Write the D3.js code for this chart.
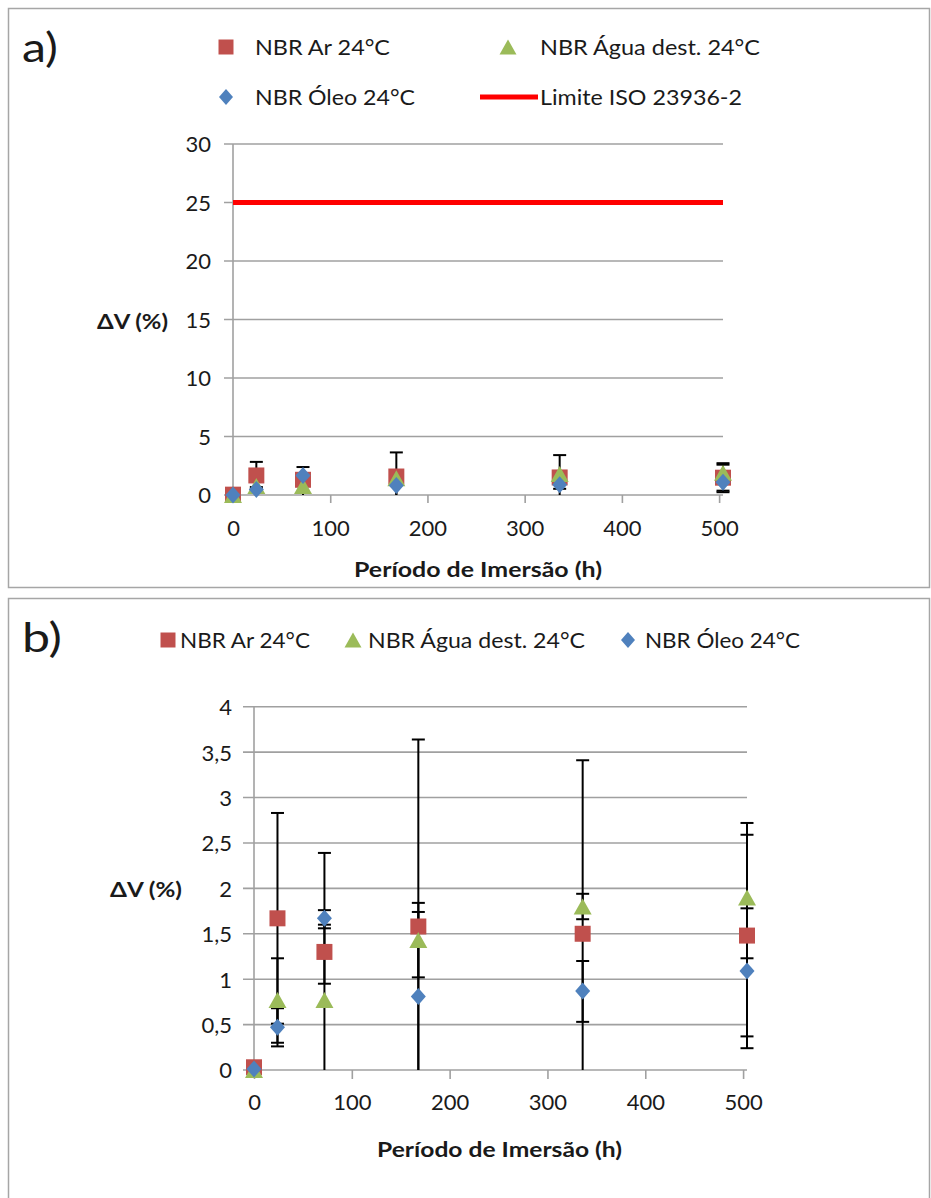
<!DOCTYPE html>
<html>
<head>
<meta charset="utf-8">
<script src="https://cdn.jsdelivr.net/npm/d3@7"></script>
<style>
  html, body { margin: 0; padding: 0; background: #fff; }
  svg { display: block; }
  text { font-family: Lato, "Open Sans", sans-serif; fill: #1a1a1a; }
</style>
</head>
<body>
<svg id="chart" width="931" height="1198"></svg>
<script>
// ---------------- DATA ----------------
const hours = [0, 24, 72, 168, 336, 504];
const seriesNames = ["NBR Ar 24°C", "NBR Água dest. 24°C", "NBR Óleo 24°C"];
const arValues   = [0.03, 1.67, 1.30, 1.58, 1.50, 1.48];
const aguaValues = [0.00, 0.77, 0.77, 1.43, 1.80, 1.90];
const oleoValues = [0.01, 0.47, 1.67, 0.81, 0.87, 1.09];
const arErrPlus    = [0, 1.16, 0.30, 2.06, 1.91, 1.11];
const arErrMinus   = [0, 1.16, 0.35, 2.06, 1.91, 1.11];
const aguaErrPlus  = [0, 0.46, 1.62, 0.41, 0.14, 0.82];
const aguaErrMinus = [0, 0.47, 1.62, 0.41, 0.14, 0.12];
const oleoErrPlus  = [0, 0.21, 0.09, 0.93, 0.33, 0.14];
const oleoErrMinus = [0, 0.21, 0.11, 0.93, 0.34, 0.85];
const limitName = "Limite ISO 23936-2";
const limitHours = [0, 504];
const limitValues = [25, 25];
const xTicks = [0, 100, 200, 300, 400, 500];
const yTicksA = [0, 5, 10, 15, 20, 25, 30];
const yTicksB = [0, 0.5, 1, 1.5, 2, 2.5, 3, 3.5, 4];
const xTitle = "Período de Imersão (h)";
const yTitle = "ΔV (%)";

// ---------------- STYLE ----------------
const colors = { ar: "#C0504D", agua: "#9BBB59", oleo: "#4F81BD", limit: "#FF0000" };
const gridColor = "#A0A0A0";
const frameColor = "#A6A6A6";

const series = [
  { key: "ar",   name: seriesNames[0], values: arValues,   plus: arErrPlus,   minus: arErrMinus,   shape: "square" },
  { key: "agua", name: seriesNames[1], values: aguaValues, plus: aguaErrPlus, minus: aguaErrMinus, shape: "triangle" },
  { key: "oleo", name: seriesNames[2], values: oleoValues, plus: oleoErrPlus, minus: oleoErrMinus, shape: "diamond" }
];

const svg = d3.select("#chart");

function markerPath(shape, s) {
  const h = s / 2;
  if (shape === "square") return `M${-h},${-h}H${h}V${h}H${-h}Z`;
  if (shape === "triangle") return `M0,${-h}L${h+1},${h}L${-h-1},${h}Z`;
  return `M0,${-h-0.5}L${h-0.5},0L0,${h+0.5}L${-h+0.5},0Z`;
}

function fitText(sel, len) {
  if (len) sel.attr("textLength", len).attr("lengthAdjust", "spacingAndGlyphs");
  return sel;
}

function drawPanel(cfg) {
  const g = svg.append("g");
  // frame
  g.append("rect").attr("x", cfg.frame[0]).attr("y", cfg.frame[1])
    .attr("width", cfg.frame[2]).attr("height", cfg.frame[3])
    .attr("fill", "none").attr("stroke", frameColor).attr("stroke-width", 1.5);

  const x = d3.scaleLinear().domain([0, 504]).range([cfg.left, cfg.right]);
  const y = d3.scaleLinear().domain(cfg.yDomain).range([cfg.bottom, cfg.top]);

  // gridlines
  g.append("g").selectAll("line").data(cfg.yTicks).join("line")
    .attr("x1", cfg.left - cfg.tickLenY).attr("x2", cfg.right)
    .attr("y1", d => y(d)).attr("y2", d => y(d))
    .attr("stroke", gridColor).attr("stroke-width", 1.6);

  // y axis line
  g.append("line").attr("x1", cfg.left).attr("x2", cfg.left)
    .attr("y1", cfg.top).attr("y2", cfg.bottom)
    .attr("stroke", gridColor).attr("stroke-width", 1.6);

  // x axis ticks
  const xAxis = d3.axisBottom(x).tickValues(xTicks).tickSize(cfg.tickLenX).tickSizeOuter(0).tickFormat(d3.format("d"));
  const xg = g.append("g").attr("transform", `translate(0,${cfg.bottom})`).call(xAxis);
  xg.select(".domain").remove();
  xg.selectAll(".tick line").attr("stroke", gridColor).attr("stroke-width", 1.6);
  xg.selectAll(".tick text").attr("dy", null).attr("y", cfg.xLabelDy)
    .style("font-family", "Lato, sans-serif").style("font-size", cfg.tickFont + "px").attr("fill", "#1a1a1a");

  // y tick labels
  const yAxis = d3.axisLeft(y).tickValues(cfg.yTicks).tickSize(0).tickPadding(0)
    .tickFormat(d => String(d).replace(".", ","));
  const yg = g.append("g").attr("transform", `translate(${cfg.yLabelX},0)`).call(yAxis);
  yg.select(".domain").remove();
  yg.selectAll(".tick text").attr("dy", "0.36em")
    .style("font-family", "Lato, sans-serif").style("font-size", cfg.tickFont + "px").attr("fill", "#1a1a1a");

  // titles
  fitText(g.append("text").attr("x", cfg.xTitlePos[0]).attr("y", cfg.xTitlePos[1])
    .attr("font-weight", "bold").attr("font-size", 21).text(xTitle), cfg.xTitlePos[2]);
  fitText(g.append("text").attr("x", cfg.yTitlePos[0]).attr("y", cfg.yTitlePos[1])
    .attr("font-weight", "bold").attr("font-size", 20).text(yTitle), cfg.yTitlePos[2]);
  fitText(g.append("text").attr("x", cfg.label[1]).attr("y", cfg.label[2])
    .attr("font-size", 40).text(cfg.label[0]), cfg.label[3]);

  // limit line
  if (cfg.limit) {
    const line = d3.line().x(d => x(d[0])).y(d => y(d[1]));
    g.append("path").datum(limitHours.map((h, i) => [h, limitValues[i]]))
      .attr("d", line).attr("stroke", colors.limit).attr("stroke-width", 5).attr("fill", "none");
  }

  // error bars (clipped to plot area)
  const clipId = "clip" + cfg.id;
  svg.append("clipPath").attr("id", clipId).append("rect")
    .attr("x", cfg.left - 20).attr("y", cfg.top).attr("width", cfg.right - cfg.left + 40).attr("height", cfg.bottom - cfg.top);
  const eb = g.append("g").attr("clip-path", `url(#${clipId})`);
  series.forEach(s => {
    hours.forEach((h, i) => {
      if (s.plus[i] === 0 && s.minus[i] === 0) return;
      const hi = s.values[i] + s.plus[i], lo = s.values[i] - s.minus[i];
      const cx = x(h);
      eb.append("line").attr("x1", cx).attr("x2", cx).attr("y1", y(hi)).attr("y2", y(lo))
        .attr("stroke", "#000").attr("stroke-width", 2);
      [hi, lo].forEach(v => {
        eb.append("line").attr("x1", cx - 6.5).attr("x2", cx + 6.5).attr("y1", y(v)).attr("y2", y(v))
          .attr("stroke", "#000").attr("stroke-width", 2);
      });
    });
  });

  // markers
  series.forEach(s => {
    g.append("g").selectAll("path").data(hours.map((h, i) => [h, s.values[i]])).join("path")
      .attr("transform", d => `translate(${x(d[0])},${y(d[1])})`)
      .attr("d", markerPath(s.shape, 16)).attr("fill", colors[s.key]);
  });

  // legend
  cfg.legend.forEach(item => {
    if (item.type === "line") {
      g.append("line").attr("x1", item.mx).attr("x2", item.mx2).attr("y1", item.y).attr("y2", item.y)
        .attr("stroke", colors.limit).attr("stroke-width", 5);
    } else {
      const s = series.find(d => d.key === item.key);
      g.append("path").attr("transform", `translate(${item.mx},${item.y})`)
        .attr("d", markerPath(s.shape, 15)).attr("fill", colors[s.key]);
    }
    fitText(g.append("text").attr("x", item.tx).attr("y", item.y).attr("dy", "0.36em")
      .attr("font-size", cfg.legendFont).text(item.text), item.w);
  });
}

drawPanel({
  id: "a",
  frame: [8.5, 8.5, 921, 579],
  left: 233, right: 723, top: 144, bottom: 495,
  yDomain: [0, 30], yTicks: yTicksA,
  tickLenX: 8, tickLenY: 9, xLabelDy: 41, yLabelX: 211, tickFont: 22,
  xTitlePos: [354, 577, 248], yTitlePos: [97, 329, 71],
  label: ["a)", 22, 62, 36],
  limit: true,
  legendFont: 21,
  legend: [
    { key: "ar", mx: 226, tx: 255, y: 47, text: seriesNames[0], w: 135 },
    { key: "agua", mx: 508, tx: 540, y: 47, text: seriesNames[1], w: 220 },
    { key: "oleo", mx: 226, tx: 255, y: 97, text: seriesNames[2], w: 160 },
    { type: "line", mx: 480, mx2: 538, tx: 540, y: 97, text: limitName, w: 202 }
  ]
});

drawPanel({
  id: "b",
  frame: [8.5, 598.5, 921, 620],
  left: 254, right: 747, top: 706.7, bottom: 1070,
  yDomain: [0, 4], yTicks: yTicksB,
  tickLenX: 9, tickLenY: 11, xLabelDy: 40, yLabelX: 232, tickFont: 22,
  xTitlePos: [377, 1157, 245], yTitlePos: [110, 897, 72],
  label: ["b)", 22, 652, 40],
  limit: false,
  legendFont: 21,
  legend: [
    { key: "ar", mx: 168, tx: 180, y: 640, text: seriesNames[0], w: 130 },
    { key: "agua", mx: 353, tx: 368, y: 640, text: seriesNames[1], w: 217 },
    { key: "oleo", mx: 628, tx: 645, y: 640, text: seriesNames[2], w: 155 }
  ]
});
</script>
</body>
</html>
